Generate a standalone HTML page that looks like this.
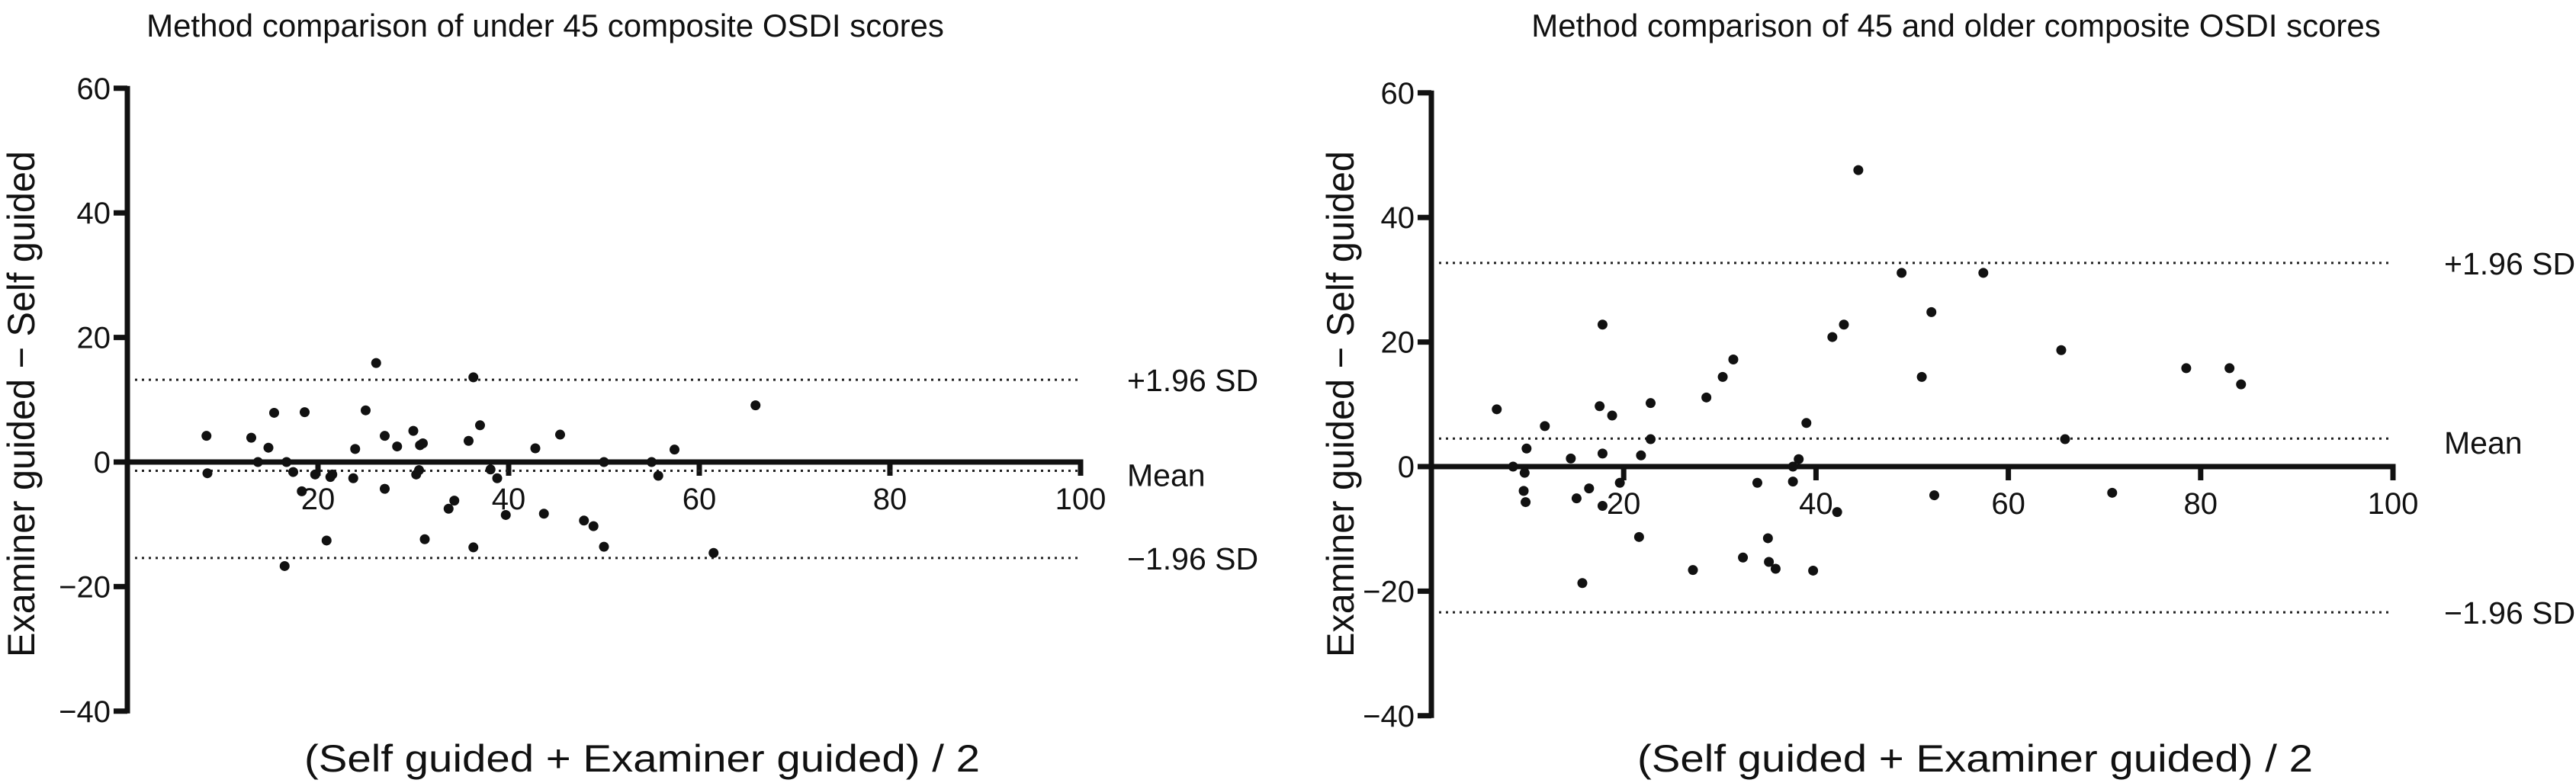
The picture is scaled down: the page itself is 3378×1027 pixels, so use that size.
<!DOCTYPE html>
<html><head><meta charset="utf-8"><style>
html,body{margin:0;padding:0;background:#fff;}
svg{display:block;font-family:"Liberation Sans",sans-serif;}
</style></head><body>
<svg id="chart" width="3378" height="1027" viewBox="0 0 3378 1027" xmlns="http://www.w3.org/2000/svg"></svg>
<script>
const xTicks = [20, 40, 60, 80, 100];
const yTicks = [60, 40, 20, 0, -20, -40];
const leftTitle = "Method comparison of under 45 composite OSDI scores";
const rightTitle = "Method comparison of 45 and older composite OSDI scores";
const leftX = [8.3,8.4,13.0,13.7,14.8,15.4,16.7,16.5,17.4,18.3,18.6,19.7,20.9,21.3,21.5,23.7,23.9,25.0,26.1,27.0,27.0,28.3,30.0,30.3,30.6,30.7,31.0,31.2,33.7,34.3,35.8,36.3,36.3,37.0,38.1,38.8,39.7,42.8,43.7,45.4,47.9,48.9,50.0,50.0,55.0,55.7,57.4,61.5,65.9];
const leftY = [4.2,-1.8,3.9,0,2.3,7.9,0,-16.7,-1.6,-4.7,8.0,-2.0,-12.6,-2.4,-2.0,-2.6,2.1,8.3,15.9,4.2,-4.3,2.5,5.0,-2.0,-1.3,2.7,3.0,-12.4,-7.5,-6.2,3.4,13.6,-13.7,5.9,-1.2,-2.6,-8.5,2.2,-8.3,4.4,-9.4,-10.3,0,-13.6,0,-2.2,2.0,-14.6,9.1];
const leftLines = [13.2, -1.4, -15.4];
const rightX = [6.8,8.5,9.7,9.6,9.8,9.9,11.8,14.5,15.1,15.7,16.4,17.5,17.8,17.8,17.8,18.8,19.6,21.8,21.6,22.8,22.8,27.2,28.6,30.3,31.4,32.4,33.9,35.0,35.1,35.8,37.6,37.6,38.2,39.0,39.7,41.7,42.2,42.9,44.4,48.9,51.0,52.0,52.3,57.4,65.5,65.9,70.8,78.5,83.0,84.2];
const rightY = [9.2,0,-1.0,-3.9,-5.7,2.9,6.5,1.3,-5.1,-18.7,-3.5,9.7,2.1,-6.3,22.8,8.2,-2.6,1.8,-11.3,10.2,4.4,-16.6,11.1,14.4,17.2,-14.6,-2.6,-11.5,-15.3,-16.4,0,-2.4,1.2,7.0,-16.7,20.8,-7.3,22.8,47.6,31.1,14.4,24.8,-4.6,31.1,18.7,4.4,-4.2,15.8,15.8,13.2];
const rightLines = [32.7, 4.5, -23.4];
const lineLabels = ["+1.96 SD", "Mean", "\u22121.96 SD"];

const NS = "http://www.w3.org/2000/svg";
const svg = document.getElementById('chart');
function mk(tag, attrs, parent) {
  const e = document.createElementNS(NS, tag);
  for (const k in attrs) e.setAttribute(k, attrs[k]);
  (parent || svg).appendChild(e);
  return e;
}
function panel(cfg, xs, ys, lines, title, key) {
  const g = mk('g', {});
  
  
  const sx = v => cfg.x0 + v * (cfg.x100 - cfg.x0) / 100;
  const sy = v => cfg.y0 - v * cfg.ppu;
  const t = mk('text', {x: cfg.titleX, y: 48, 'font-size': 42, 'text-anchor': 'middle', fill: '#111'}, g);
  t.textContent = title;
  
  
  const yt = mk('text', {x: 0, y: 0, 'font-size': 50, 'text-anchor': 'middle', textLength: 664, lengthAdjust: 'spacingAndGlyphs', fill: '#111', transform: 'translate(' + cfg.yTitleX + ',530) rotate(-90)'}, g);
  yt.textContent = "Examiner guided \u2212 Self guided";
  
  
  const xt = mk('text', {x: cfg.xTitleX, y: 1012, 'font-size': 50, 'text-anchor': 'middle', textLength: 886, lengthAdjust: 'spacingAndGlyphs', fill: '#111'}, g);
  xt.textContent = "(Self guided + Examiner guided) / 2";
  
  
  const ya = mk('line', {x1: cfg.x0, x2: cfg.x0, y1: sy(60) - 3, y2: sy(-40) + 3, stroke: '#111', 'stroke-width': 7}, g);
  
  
  yTicks.forEach(v => {
    const tk = mk('line', {x1: cfg.x0 - 18, x2: cfg.x0, y1: sy(v), y2: sy(v), stroke: '#111', 'stroke-width': 7}, g);
    
    
    const lb = mk('text', {x: cfg.x0 - 22, y: sy(v) + 14, 'font-size': 40, 'text-anchor': 'end', fill: '#111'}, g);
    lb.textContent = v < 0 ? '\u2212' + Math.abs(v) : String(v);
    
    
  });
  const xa = mk('line', {x1: cfg.x0, x2: sx(100) + 3.5, y1: sy(0), y2: sy(0), stroke: '#111', 'stroke-width': 7}, g);
  
  
  xTicks.forEach(v => {
    const tk = mk('line', {x1: sx(v), x2: sx(v), y1: sy(0), y2: sy(0) + 18, stroke: '#111', 'stroke-width': 7}, g);
    
    
    const lb = mk('text', {x: sx(v), y: sy(0) + 62, 'font-size': 40, 'text-anchor': 'middle', fill: '#111'}, g);
    lb.textContent = String(v);
    
    
  });
  lines.forEach((v, i) => {
    const ln = mk('line', {x1: cfg.x0 + 10, x2: sx(100), y1: sy(v), y2: sy(v), stroke: '#222', 'stroke-width': 3, 'stroke-dasharray': '3 6'}, g);
    
    
    const lb = mk('text', {x: cfg.labelX, y: sy(v) + (i === 1 ? 20 : 15), 'font-size': 41, fill: '#111'}, g);
    lb.textContent = lineLabels[i];
    
    
  });
  xs.forEach((v, i) => {
    const c = mk('circle', {cx: sx(v), cy: sy(ys[i]), r: 6.5, fill: '#111'}, g);
    
    
  });
}
panel({x0: 167, x100: 1417, y0: 606, ppu: 8.17, titleX: 715, yTitleX: 45, xTitleX: 842, labelX: 1478}, leftX, leftY, leftLines, leftTitle, 'left');
panel({x0: 1877, x100: 3138, y0: 612, ppu: 8.17, titleX: 2565, yTitleX: 1775, xTitleX: 2590, labelX: 3205}, rightX, rightY, rightLines, rightTitle, 'right');
</script>
</body></html>
